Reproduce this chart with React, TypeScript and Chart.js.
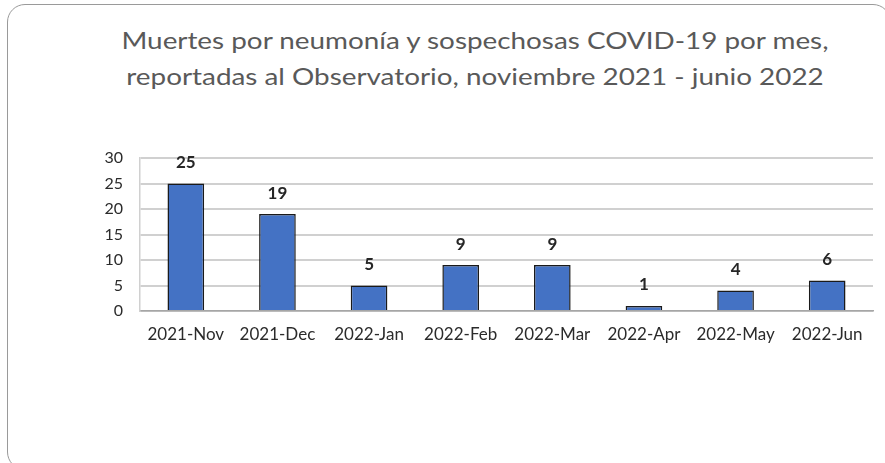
import React, { useEffect, useRef } from "react";
import { Chart, registerables } from "chart.js";

Chart.register(...registerables);

const titleLines = [
  "Muertes por neumonía y sospechosas COVID-19 por mes,",
  "reportadas al Observatorio, noviembre 2021 - junio 2022",
];
const categories = ["2021-Nov", "2021-Dec", "2022-Jan", "2022-Feb", "2022-Mar", "2022-Apr", "2022-May", "2022-Jun"];
const deaths = [25, 19, 5, 9, 9, 1, 4, 6];
const yTicks = [0, 5, 10, 15, 20, 25, 30];

const FONT = "Lato, 'Open Sans', sans-serif";

const valueLabels = {
  id: "valueLabels",
  afterDatasetsDraw(chart: any) {
    const ctx = chart.ctx;
    const meta = chart.getDatasetMeta(0);
    ctx.save();
    ctx.font = `bold 17px ${FONT}`;
    ctx.fillStyle = "#262626";
    ctx.textAlign = "center";
    ctx.textBaseline = "middle";
    meta.data.forEach((bar: any, i: number) => {
      ctx.fillText(String(deaths[i]), bar.x, bar.y - 21);
    });
    ctx.restore();
  },
};

export default function App() {
  const ref = useRef<HTMLCanvasElement>(null);
  useEffect(() => {
    document.body.style.margin = "0";
    const chart = new Chart(ref.current!, {
      type: "bar",
      data: {
        labels: categories,
        datasets: [
          {
            data: deaths,
            backgroundColor: "#4472C4",
            borderColor: "#1a1a1a",
            borderWidth: 1.5,
            barPercentage: 0.4,
            categoryPercentage: 1,
          },
        ],
      },
      plugins: [valueLabels],
      options: {
        animation: false,
        responsive: false,
        layout: { padding: { left: 0, right: 12, top: 158, bottom: 112 } },
        plugins: { legend: { display: false }, title: { display: false }, tooltip: { enabled: false } },
        scales: {
          x: {
            grid: { display: false, drawTicks: false },
            border: { color: "#a6a6a6", width: 1.5 },
            ticks: { color: "#2b2b2b", font: { family: FONT, size: 17 }, padding: 13, maxRotation: 0 },
            afterFit: (s: any) => { s.height = 40; },
          },
          y: {
            min: 0,
            max: 30,
            afterBuildTicks: (s: any) => { s.ticks = yTicks.map((v) => ({ value: v })); },
            grid: { color: "#d0d0d0", lineWidth: 2, drawTicks: false },
            border: { color: "#d0d0d0", width: 1.5 },
            ticks: { color: "#2b2b2b", font: { family: FONT, size: 16 }, padding: 17 },
            afterFit: (s: any) => { s.width = 140; },
          },
        },
      },
    });
    return () => chart.destroy();
  }, []);
  return (
    <div style={{ position: "fixed", left: 0, top: 0, width: 885, height: 463, background: "#fff", overflow: "hidden" }}>
      <div
        style={{
          position: "absolute",
          left: 7,
          top: 4,
          width: 884,
          height: 466,
          boxSizing: "border-box",
          border: "1.5px solid #9a9a9a",
          borderRadius: 18,
        }}
      />
      <div
        style={{
          position: "absolute",
          left: 0,
          top: 22,
          width: 950,
          textAlign: "center",
          fontFamily: FONT,
          fontSize: 24,
          lineHeight: "36px",
          color: "#595959",
          transform: "scaleX(1.16)",
          transformOrigin: "475px 0",
        }}
      >
        {titleLines.map((l) => (
          <div key={l}>{l}</div>
        ))}
      </div>
      <canvas ref={ref} width={885} height={463} style={{ position: "absolute", left: 0, top: 0 }} />
    </div>
  );
}
